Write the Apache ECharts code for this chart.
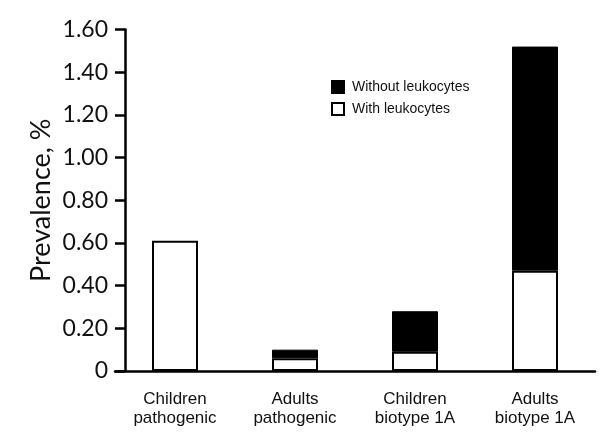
<!DOCTYPE html>
<html><head><meta charset="utf-8">
<script src="https://cdn.jsdelivr.net/npm/echarts@6/dist/echarts.min.js"></script>
<style>html,body{margin:0;padding:0;background:#fff}#c{width:600px;height:434px}</style>
</head><body><div id="c"></div>
<script>
const categories = ['Children\npathogenic', 'Adults\npathogenic', 'Children\nbiotype 1A', 'Adults\nbiotype 1A'];
const withLeukocytes = [0.61, 0.06, 0.09, 0.47];
const withoutLeukocytes = [null, 0.04, 0.19, 1.05];
const seriesNames = ['With leukocytes', 'Without leukocytes'];

const chart = echarts.init(document.getElementById('c'));
chart.setOption({
  animation: false,
  backgroundColor: '#fff',
  grid: { left: 115, right: 5, top: 29.5, bottom: 63, containLabel: false },
  legend: {
    orient: 'vertical', left: 326, top: 75, itemWidth: 12, itemHeight: 12, itemGap: 8,
    icon: 'rect',
    data: [
      { name: seriesNames[1], itemStyle: { color: '#000', borderColor: '#000', borderWidth: 2 } },
      { name: seriesNames[0], itemStyle: { color: '#fff', borderColor: '#000', borderWidth: 2 } }
    ],
    textStyle: { fontFamily: 'Liberation Sans', fontSize: 14, color: '#111', padding: [0,0,0,3] },
    selectedMode: false
  },
  xAxis: {
    type: 'category', data: categories,
    axisLine: { lineStyle: { color: '#000', width: 2.5 } },
    axisTick: { show: false },
    axisLabel: { color: '#111', fontFamily: 'Liberation Sans', fontSize: 17, lineHeight: 19, margin: 19 }
  },
  yAxis: {
    type: 'value', min: 0, max: 1.6, interval: 0.2, offset: -10,
    name: 'Prevalence, %', nameLocation: 'middle', nameGap: 70, nameMoveOverlap: false,
    nameTextStyle: { fontFamily: 'Lato', fontSize: 27, color: '#111' },
    axisLine: { show: true, lineStyle: { color: '#000', width: 2.5 } },
    axisTick: { show: true, inside: false, length: 10, lineStyle: { color: '#000', width: 2.5 } },
    splitLine: { show: false },
    axisLabel: { color: '#111', fontFamily: 'Lato', fontSize: 23, margin: 17,
      formatter: v => v === 0 ? '0' : v.toFixed(2) }
  },
  series: [
    { name: seriesNames[0], type: 'bar', stack: 's', data: withLeukocytes, barWidth: 46,
      itemStyle: { color: '#fff', borderColor: '#000', borderWidth: 2 } },
    { name: seriesNames[1], type: 'bar', stack: 's', data: withoutLeukocytes, barWidth: 46,
      itemStyle: { color: '#000', borderColor: '#000', borderWidth: 1 } }
  ]
});
</script></body></html>
